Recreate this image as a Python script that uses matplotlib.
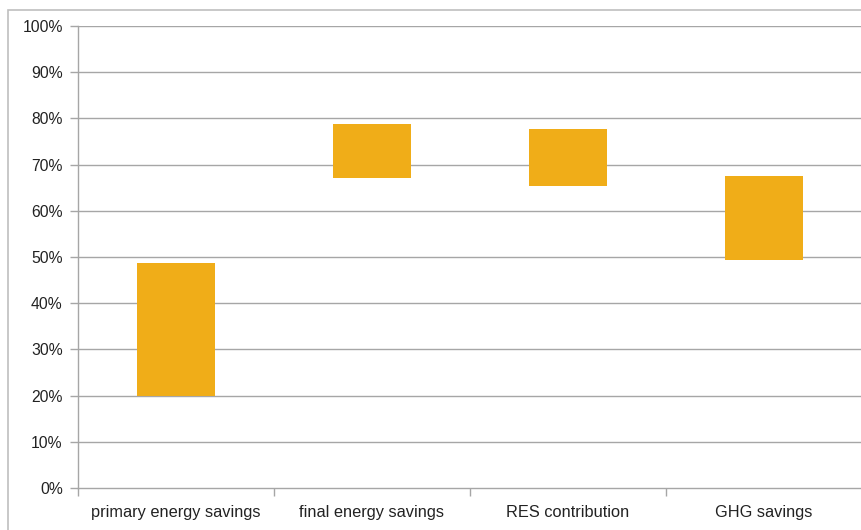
import matplotlib.pyplot as plt
import matplotlib.patches as mpatches
import numpy as np

plt.rcParams['font.family'] = ['Liberation Sans', 'DejaVu Sans']

""" Data """

categories = ['primary energy savings', 'final energy savings', 'RES contribution', 'GHG savings']
low = [0.199, 0.671, 0.653, 0.493]
high = [0.488, 0.788, 0.777, 0.675]
yticks = np.arange(0, 1.01, 0.1)

""" Plot """

fig = plt.figure(figsize=(8.62, 5.30), dpi=100)
ax = fig.add_axes([78/862, 1-488/530, 1-78/862, (488-26)/530])

x = np.arange(len(categories))
heights = [h - l for h, l in zip(high, low)]
ax.bar(x, heights, bottom=low, width=0.4, color='#F0AD18', zorder=3)

ax.set_xlim(-0.5, len(categories) - 0.5)
ax.set_ylim(0, 1)
ax.set_yticks(yticks)
ax.set_yticklabels(['%d%%' % round(v * 100) for v in yticks], fontsize=11.3, color='#222222')
for y in yticks[1:]:
    ax.axhline(y, color='#A6A6A6', lw=1, zorder=1)

# category labels centred, tick marks on boundaries
ax.set_xticks(np.arange(-0.5, len(categories)), minor=False)
ax.set_xticklabels([])
ax.set_xticks(x, minor=True)
ax.set_xticklabels(categories, minor=True, fontsize=11.8, color='#222222')
ax.tick_params(axis='x', which='minor', length=0, pad=12)
ax.tick_params(axis='x', which='major', length=6, color='#A6A6A6', width=1)
ax.tick_params(axis='y', length=6, color='#A6A6A6', width=1, pad=5)

for s in ['top', 'right']:
    ax.spines[s].set_visible(False)
for s in ['left', 'bottom']:
    ax.spines[s].set_color('#A6A6A6')
    ax.spines[s].set_linewidth(1)

# outer chart frame
fig.patches.append(mpatches.Rectangle((8/862, -0.05), 1, 1.05-10/530, transform=fig.transFigure,
                                      fill=False, edgecolor='#BFBFBF', lw=1.2))

fig.savefig('out.png', dpi=100)
